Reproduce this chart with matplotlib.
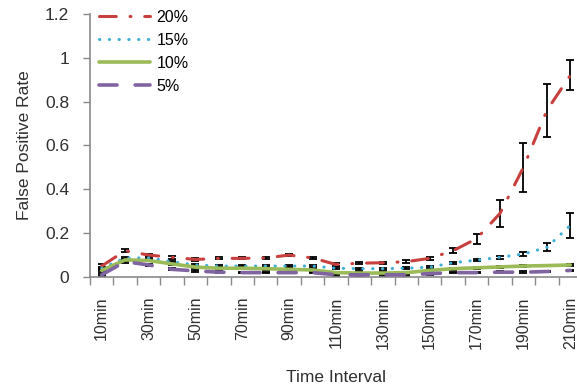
import numpy as np
import matplotlib
matplotlib.use('Agg')
import matplotlib.pyplot as plt

plt.rcParams['font.family'] = ['Liberation Sans', 'DejaVu Sans']

labels = ['10min', '20min', '30min', '40min', '50min', '60min', '70min',
          '80min', '90min', '100min', '110min', '120min', '130min', '140min',
          '150min', '160min', '170min', '180min', '190min', '200min', '210min']

fp20 = [0.05, 0.12, 0.10, 0.09, 0.08, 0.085, 0.085, 0.087, 0.10, 0.087, 0.057,
        0.063, 0.065, 0.07, 0.085, 0.12, 0.175, 0.29, 0.50, 0.76, 0.92]
err20 = [0.01, 0.008, 0.006, 0.006, 0.005, 0.005, 0.005, 0.006, 0.006, 0.005, 0.005,
         0.005, 0.005, 0.006, 0.006, 0.012, 0.023, 0.063, 0.11, 0.12, 0.068]
fp15 = [0.04, 0.087, 0.087, 0.07, 0.055, 0.05, 0.05, 0.05, 0.05, 0.05, 0.04,
        0.038, 0.038, 0.04, 0.045, 0.065, 0.077, 0.09, 0.105, 0.135, 0.235]
err15 = [0.006, 0.005, 0.005, 0.005, 0.005, 0.005, 0.005, 0.005, 0.005, 0.005, 0.005,
         0.005, 0.005, 0.005, 0.005, 0.005, 0.006, 0.007, 0.008, 0.018, 0.055]
fp10 = [0.03, 0.078, 0.075, 0.06, 0.045, 0.04, 0.04, 0.038, 0.035, 0.032, 0.02,
        0.018, 0.018, 0.02, 0.03, 0.038, 0.042, 0.046, 0.05, 0.052, 0.055]
err10 = [0.005, 0.004, 0.004, 0.004, 0.004, 0.004, 0.004, 0.004, 0.004, 0.004, 0.004,
         0.004, 0.004, 0.004, 0.004, 0.004, 0.004, 0.004, 0.004, 0.004, 0.004]
fp5 = [0.01, 0.07, 0.055, 0.035, 0.028, 0.022, 0.02, 0.02, 0.02, 0.02, 0.01,
       0.01, 0.01, 0.01, 0.015, 0.02, 0.02, 0.022, 0.022, 0.025, 0.03]
err5 = [0.005, 0.004, 0.004, 0.004, 0.004, 0.004, 0.004, 0.004, 0.004, 0.004, 0.004,
        0.004, 0.004, 0.004, 0.004, 0.004, 0.004, 0.004, 0.004, 0.004, 0.004]

x = np.arange(len(labels))

fig = plt.figure(figsize=(5.77, 3.9), dpi=100)
ax = fig.add_axes([90 / 577, 113 / 390, 492 / 577, 263 / 390])

series = [
    ('20%', fp20, err20, '#C8403E', 2.2, (0, (5.5, 4.5, 0.3, 4.5))),
    ('15%', fp15, err15, '#3EAFD6', 2.2, (0, (0.1, 3.1))),
    ('10%', fp10, err10, '#9BBB59', 2.6, '-'),
    ('5%', fp5, err5, '#8064A2', 2.6, (0, (5, 5))),
]

for name, vals, err, color, lw, ls in series:
    ax.errorbar(x, vals, yerr=err, fmt='none', ecolor='black', elinewidth=1.3,
                capsize=3, capthick=1.3, zorder=2)
for name, vals, err, color, lw, ls in series:
    ax.plot(x, vals, color=color, lw=lw, linestyle=ls, dash_capstyle='round',
            solid_capstyle='round', label=name, zorder=3)

ax.set_xlim(-0.5, len(labels) - 0.5)
ax.set_ylim(0, 1.2)
ax.set_yticks([0, 0.2, 0.4, 0.6, 0.8, 1.0, 1.2])
ax.set_yticklabels(['0', '0.2', '0.4', '0.6', '0.8', '1', '1.2'])

# labels every other interval, tick marks on category boundaries
ax.set_xticks(x[::2])
ax.set_xticklabels(labels[::2], rotation=90)
ax.set_xticks(np.arange(-0.5, len(labels)), minor=True)
ax.tick_params(axis='x', which='major', length=0, pad=14)
ax.tick_params(axis='x', which='minor', length=6, width=1, color='#8a8a8a')
ax.tick_params(axis='y', length=5, width=1, color='#8a8a8a', pad=10)
ax.tick_params(axis='y', labelsize=12.5)
ax.tick_params(axis='x', labelsize=11.5)
ax.tick_params(labelcolor='#303030')

for side in ['top', 'right']:
    ax.spines[side].set_visible(False)
for side in ['left', 'bottom']:
    ax.spines[side].set_color('#8a8a8a')
    ax.spines[side].set_linewidth(1.2)

ax.set_xlabel('Time Interval', fontsize=12.5, color='#303030', labelpad=15)
ax.set_ylabel('False Positive Rate', fontsize=12.5, color='#303030', labelpad=9)

ax.legend(loc='upper left', bbox_to_anchor=(0.005, 1.04), frameon=False,
          fontsize=11.5, handlelength=3.2, handletextpad=0.4, labelspacing=0.5,
          borderaxespad=0)

plt.savefig('out.png', dpi=100)
